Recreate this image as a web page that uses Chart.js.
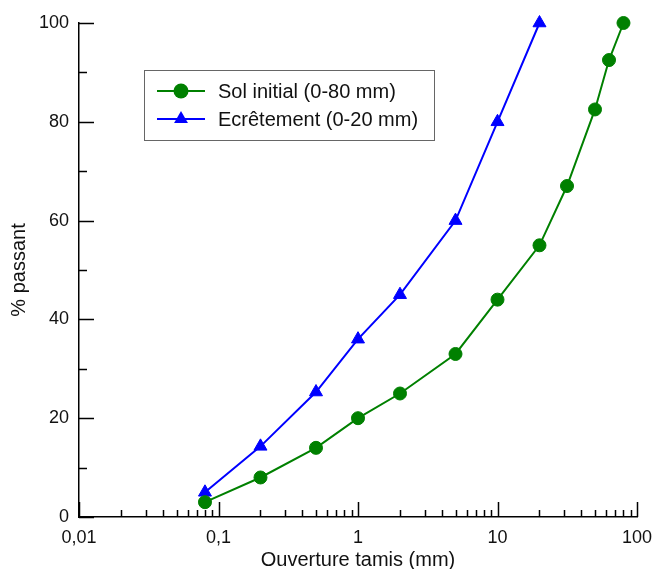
<!DOCTYPE html>
<html>
<head>
<meta charset="utf-8">
<script src="https://cdn.jsdelivr.net/npm/chart.js@4.4.1/dist/chart.umd.min.js"></script>
<style>
  html, body { margin: 0; padding: 0; background: #fff; }
  #wrap { width: 655px; height: 569px; position: relative; }
</style>
</head>
<body>
<div id="wrap"><canvas id="c" width="655" height="569"></canvas></div>
<script>
// ---- data ----
const seriesNames = ['Sol initial (0-80 mm)', 'Ecrêtement (0-20 mm)'];
const solSizes = [0.08, 0.2, 0.5, 1, 2, 5, 10, 20, 31.5, 50, 63, 80];
const solPassing = [3, 8, 14, 20, 25, 33, 44, 55, 67, 82.5, 92.5, 100];
const ecrSizes = [0.08, 0.2, 0.5, 1, 2, 5, 10, 20];
const ecrPassing = [5, 14.3, 25.3, 36, 45, 60, 80, 100];
const xTickValues = [0.01, 0.1, 1, 10, 100];
const xTickLabels = ['0,01', '0,1', '1', '10', '100'];
const yTickValues = [0, 20, 40, 60, 80, 100];
const xTitle = 'Ouverture tamis (mm)';
const yTitle = '% passant';

const FONT = "'Liberation Sans', Arial, sans-serif";

const innerTicks = {
  id: 'innerTicks',
  afterDraw(chart) {
    const ctx = chart.ctx;
    const xs = chart.scales.x, ys = chart.scales.y;
    const area = chart.chartArea;
    ctx.save();
    ctx.strokeStyle = '#000';
    ctx.lineWidth = 1.5;
    ctx.beginPath();
    for (let e = -2; e <= 2; e++) {
      for (let m = 1; m <= 9; m++) {
        const v = m * Math.pow(10, e);
        if (v > 100 + 1e-9) break;
        const px = Math.round(xs.getPixelForValue(v)) + 0.5;
        const len = (m === 1) ? 15 : 7;
        ctx.moveTo(px, area.bottom);
        ctx.lineTo(px, area.bottom - len);
      }
    }
    for (let v = 0; v <= 100; v += 10) {
      const py = Math.round(ys.getPixelForValue(v)) + 0.5;
      const len = (v % 20 === 0) ? 15 : 8;
      ctx.moveTo(area.left, py);
      ctx.lineTo(area.left + len, py);
    }
    ctx.stroke();
    ctx.restore();
  }
};

const boxLegend = {
  id: 'boxLegend',
  afterDraw(chart) {
    const ctx = chart.ctx;
    const bx = 144, by = 70, bw = 290, bh = 70;
    ctx.save();
    ctx.fillStyle = '#fff';
    ctx.fillRect(bx, by, bw, bh);
    ctx.strokeStyle = '#666';
    ctx.lineWidth = 1;
    ctx.strokeRect(bx + 0.5, by + 0.5, bw, bh);
    chart.data.datasets.forEach((ds, i) => {
      const y = by + 21 + i * 28;
      ctx.strokeStyle = ds.borderColor;
      ctx.lineWidth = 2;
      ctx.beginPath();
      ctx.moveTo(157, y);
      ctx.lineTo(205, y);
      ctx.stroke();
      ctx.fillStyle = ds.pointBackgroundColor;
      ctx.beginPath();
      if (ds.pointStyle === 'triangle') {
        const r = 8;
        ctx.moveTo(181, y - r);
        ctx.lineTo(181 + r * 0.866, y + r * 0.5);
        ctx.lineTo(181 - r * 0.866, y + r * 0.5);
        ctx.closePath();
      } else {
        ctx.arc(181, y, 7.5, 0, Math.PI * 2);
      }
      ctx.fill();
      ctx.fillStyle = '#111';
      ctx.font = '20px ' + FONT;
      ctx.textBaseline = 'middle';
      ctx.textAlign = 'left';
      ctx.fillText(ds.label, 218, y + 1);
    });
    ctx.restore();
  }
};

new Chart(document.getElementById('c'), {
  type: 'line',
  data: {
    datasets: [
      {
        label: seriesNames[0],
        data: solSizes.map((x, i) => ({ x: x, y: solPassing[i] })),
        borderColor: '#008000',
        backgroundColor: '#008000',
        pointBackgroundColor: '#008000',
        pointBorderColor: '#008000',
        pointStyle: 'circle',
        pointRadius: 6.5,
        pointBorderWidth: 1,
        borderWidth: 2,
        tension: 0,
        clip: false
      },
      {
        label: seriesNames[1],
        data: ecrSizes.map((x, i) => ({ x: x, y: ecrPassing[i] })),
        borderColor: '#0000ff',
        backgroundColor: '#0000ff',
        pointBackgroundColor: '#0000ff',
        pointBorderColor: '#0000ff',
        pointStyle: 'triangle',
        pointRadius: 7.5,
        pointBorderWidth: 1,
        borderWidth: 2,
        tension: 0,
        clip: false
      }
    ]
  },
  options: {
    responsive: false,
    animation: false,
    layout: { padding: { top: 23, right: 18, left: 0, bottom: 0 } },
    plugins: {
      legend: { display: false },
      tooltip: { enabled: false }
    },
    scales: {
      x: {
        type: 'logarithmic',
        min: 0.01,
        max: 100,
        afterBuildTicks: (s) => { s.ticks = xTickValues.map(v => ({ value: v })); },
        afterFit: (s) => { s.height = 52; s.paddingLeft = 0; s.paddingRight = 0; },
        grid: { display: false, drawTicks: false },
        border: { display: true, color: '#000', width: 1.5 },
        ticks: {
          autoSkip: false,
          maxRotation: 0,
          padding: 10,
          color: '#111',
          font: { family: FONT, size: 18 },
          callback: (v) => { const i = xTickValues.indexOf(v); return i >= 0 ? xTickLabels[i] : ''; }
        },
        title: {
          display: true,
          text: xTitle,
          color: '#111',
          font: { family: FONT, size: 20, lineHeight: 1 },
          padding: { top: 0, bottom: -1 }
        }
      },
      y: {
        type: 'linear',
        min: 0,
        max: 100,
        afterBuildTicks: (s) => { s.ticks = yTickValues.map(v => ({ value: v })); },
        afterFit: (s) => { s.width = 79; s.paddingTop = 0; s.paddingBottom = 0; },
        grid: { display: false, drawTicks: false },
        border: { display: true, color: '#000', width: 1.5 },
        ticks: {
          padding: 10,
          color: '#111',
          font: { family: FONT, size: 18 }
        },
        title: {
          display: true,
          text: yTitle,
          color: '#111',
          font: { family: FONT, size: 20, lineHeight: 1.2 },
          padding: { top: 7, bottom: 0 }
        }
      }
    }
  },
  plugins: [innerTicks, boxLegend]
});
</script>
</body>
</html>
